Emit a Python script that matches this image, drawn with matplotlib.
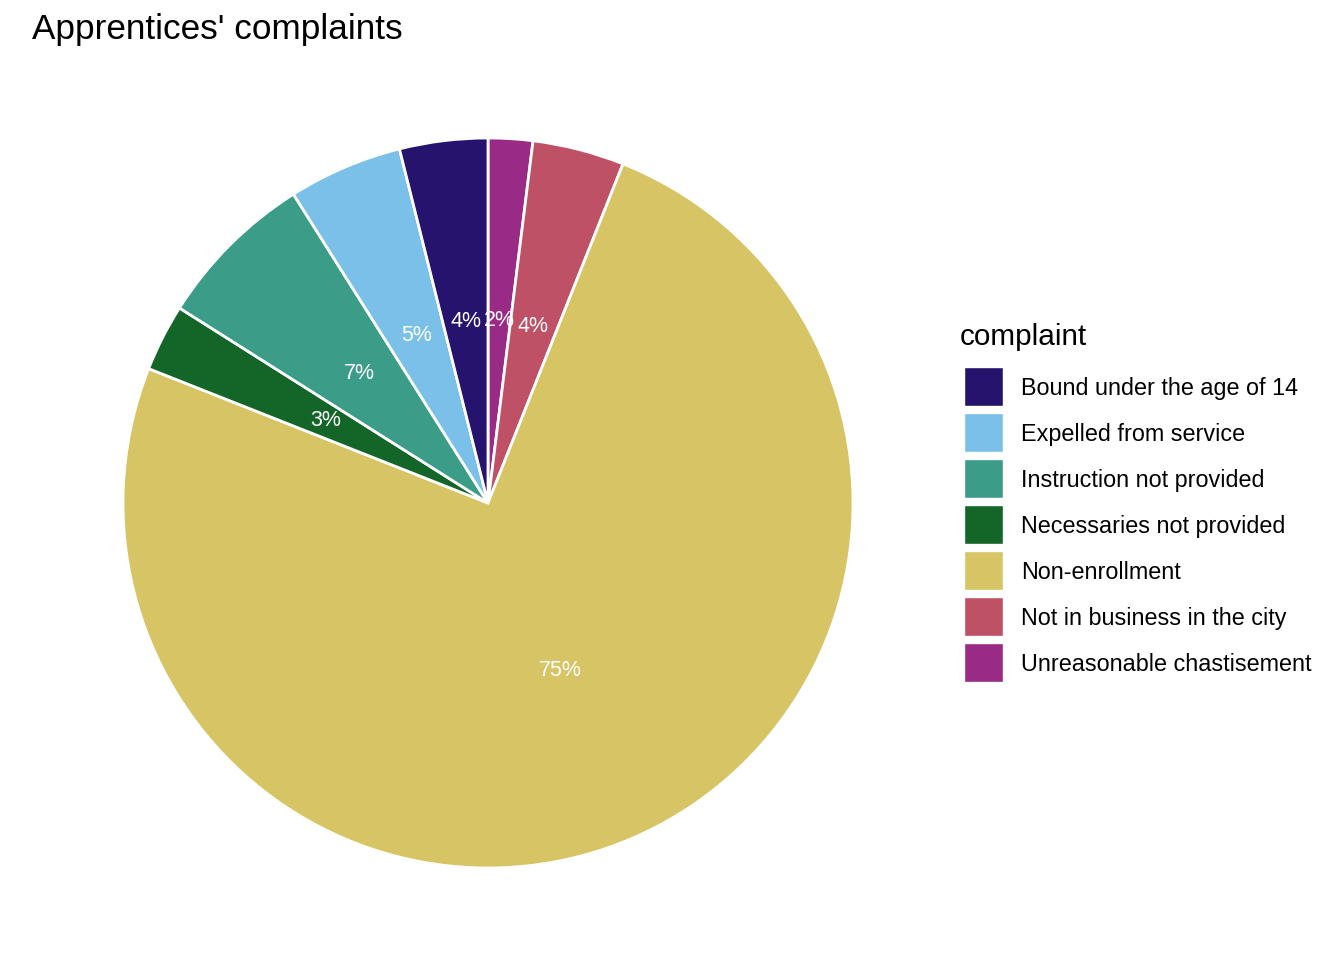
import matplotlib
matplotlib.use("Agg")
import matplotlib.pyplot as plt
from matplotlib.patches import Rectangle

plt.rcParams['font.family'] = ['Liberation Sans', 'DejaVu Sans']

# Data (clockwise from 12 o'clock)
complaints = ["Unreasonable chastisement", "Not in business in the city", "Non-enrollment",
              "Necessaries not provided", "Instruction not provided", "Expelled from service",
              "Bound under the age of 14"]
shares = [1.97, 4.06, 74.97, 2.97, 7.08, 5.05, 3.90]
colors = {
    "Bound under the age of 14": "#25136E",
    "Expelled from service": "#7AC0E9",
    "Instruction not provided": "#3B9C87",
    "Necessaries not provided": "#146628",
    "Non-enrollment": "#D7C465",
    "Not in business in the city": "#BE5166",
    "Unreasonable chastisement": "#992A86",
}
legend_order = sorted(complaints)

W, H = 1344, 960
fig = plt.figure(figsize=(W / 100, H / 100), dpi=100)
cx, cy, r = 488, 503, 365
ax = fig.add_axes([(cx - r) / W, (H - cy - r) / H, 2 * r / W, 2 * r / H])
wedges, texts, autotexts = ax.pie(
    shares, colors=[colors[c] for c in complaints], startangle=90, counterclock=False,
    radius=1, autopct=lambda p: f"{round(p)}%", pctdistance=0.5,
    wedgeprops=dict(edgecolor="white", linewidth=2),
    textprops=dict(color="white", fontsize=15.5))
ax.set_xlim(-1, 1)
ax.set_ylim(-1, 1)
ax.set_aspect("equal")
ax.axis("off")

fig.text(32 / W, 1 - 29 / H, "Apprentices' complaints", fontsize=25.3,
         ha="left", va="center")

# Legend (ggplot style)
fig.text(960 / W, 1 - 345 / H, "complaint", fontsize=21.4, ha="left", va="baseline")
key_x, key_top0, key_w, key_h, step = 964, 367, 39, 39, 46
for i, name in enumerate(legend_order):
    top = key_top0 + i * step
    fig.add_artist(Rectangle((key_x / W, 1 - (top + key_h) / H), key_w / W, key_h / H,
                             transform=fig.transFigure, facecolor=colors[name],
                             edgecolor="white", linewidth=1))
    fig.text(1021 / W, 1 - (top + key_h / 2 + 8.5) / H, name, fontsize=16.8,
             ha="left", va="baseline")

fig.savefig("out.png", dpi=100, facecolor="white")
